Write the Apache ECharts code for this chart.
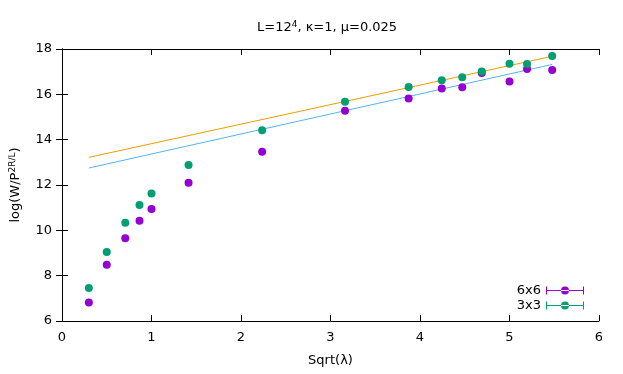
<!DOCTYPE html>
<html>
<head>
<meta charset="utf-8">
<script src="https://cdn.jsdelivr.net/npm/echarts@6/dist/echarts.min.js"></script>
<style>html,body{margin:0;padding:0;background:#fff}#c{width:623px;height:374px}</style>
</head>
<body>
<div id="c"></div>
<script>
// Data
var sqrtLambda = [0.3, 0.5, 0.707, 0.866, 1.0, 1.414, 2.236, 3.162, 3.873, 4.243, 4.472, 4.690, 5.0, 5.196, 5.477];
var y6x6 = [6.82, 8.48, 9.65, 10.42, 10.94, 12.10, 13.47, 15.28, 15.82, 16.26, 16.31, 16.94, 16.57, 17.12, 17.07];
var y3x3 = [7.46, 9.04, 10.34, 11.12, 11.63, 12.88, 14.41, 15.67, 16.32, 16.62, 16.75, 17.01, 17.35, 17.34, 17.69];
var fitX = [0.3, 5.477];
var fitOrange = [13.22, 17.68];
var fitBlue = [12.75, 17.32];
var xTicks = [0, 1, 2, 3, 4, 5, 6];
var yTicks = [6, 8, 10, 12, 14, 16, 18];

function pairs(xs, ys) { return xs.map(function (x, i) { return [x, ys[i]]; }); }

var FONT = 'DejaVu Sans';
var legendIcon = 'path://M0,3.5L38,3.5L38,4.5L0,4.5Z M0,0L1,0L1,8L0,8Z M37,0L38,0L38,8L37,8Z M15,4A4,4 0 1,0 23,4A4,4 0 1,0 15,4Z';

var chart = echarts.init(document.getElementById('c'), null, {renderer: 'canvas'});
var axisCommon = {
  axisLine: {lineStyle: {color: '#000', width: 1}},
  axisTick: {inside: true, length: 6, lineStyle: {color: '#000'}},
  splitLine: {show: false}
};
chart.setOption({
  animation: false,
  backgroundColor: '#fff',
  textStyle: {fontFamily: FONT},
  title: {
    text: '{a|L=12}{s|4}{a|, κ=1, μ=0.025}',
    left: 252, top: 15,
    textStyle: {
      fontFamily: FONT, fontWeight: 'normal',
      rich: {
        a: {fontFamily: FONT, fontSize: 13, color: '#000'},
        s: {fontFamily: FONT, fontSize: 9, color: '#000', verticalAlign: 'top', padding: [0, 0, 7, 0]}
      }
    }
  },
  grid: {left: 59, right: 24, top: 49, bottom: 53, containLabel: false},
  legend: {
    right: 34, top: 278, orient: 'vertical', align: 'right',
    itemWidth: 38, itemHeight: 8, itemGap: 0,
    textStyle: {fontFamily: FONT, fontSize: 13, color: '#000', lineHeight: 15},
    data: [
      {name: '6x6', icon: legendIcon},
      {name: '3x3', icon: legendIcon}
    ]
  },
  xAxis: [
    Object.assign({}, axisCommon, {
      type: 'value', min: 0, max: 6, interval: 1,
      name: 'Sqrt(λ)', nameLocation: 'middle', nameGap: 33,
      nameTextStyle: {fontFamily: FONT, fontSize: 13, color: '#000'},
      axisLabel: {fontFamily: FONT, fontSize: 13, color: '#000', margin: 10,
        formatter: function (v) { return xTicks.indexOf(v) >= 0 ? String(v) : ''; }}
    }),
    Object.assign({}, axisCommon, {
      type: 'value', min: 0, max: 6, interval: 1, position: 'top',
      axisLabel: {show: false}
    })
  ],
  yAxis: [
    Object.assign({}, axisCommon, {
      type: 'value', min: 6, max: 18, interval: 2,
      name: '{a|log(W/P}{s|2R/L}{a|)}', nameLocation: 'middle', nameGap: 38,
      nameTextStyle: {
        fontFamily: FONT,
        rich: {
          a: {fontFamily: FONT, fontSize: 13, color: '#000'},
          s: {fontFamily: FONT, fontSize: 9, color: '#000', verticalAlign: 'top', padding: [0, 0, 7, 0]}
        }
      },
      axisLabel: {fontFamily: FONT, fontSize: 13, color: '#000', margin: 10,
        formatter: function (v) { return yTicks.indexOf(v) >= 0 ? String(v) : ''; }}
    }),
    Object.assign({}, axisCommon, {
      type: 'value', min: 6, max: 18, interval: 2, position: 'right',
      axisLabel: {show: false}
    })
  ],
  series: [
    {type: 'line', data: pairs(fitX, fitOrange), symbol: 'none', silent: true,
     lineStyle: {color: '#E69F00', width: 1}, z: 1},
    {type: 'line', data: pairs(fitX, fitBlue), symbol: 'none', silent: true,
     lineStyle: {color: '#56B4E9', width: 1}, z: 1},
    {name: '6x6', type: 'scatter', data: pairs(sqrtLambda, y6x6), symbol: 'circle', symbolSize: 8,
     itemStyle: {color: '#9400D3', opacity: 1}, z: 3},
    {name: '3x3', type: 'scatter', data: pairs(sqrtLambda, y3x3), symbol: 'circle', symbolSize: 8,
     itemStyle: {color: '#009E73', opacity: 1}, z: 3}
  ]
});
</script>
</body>
</html>
